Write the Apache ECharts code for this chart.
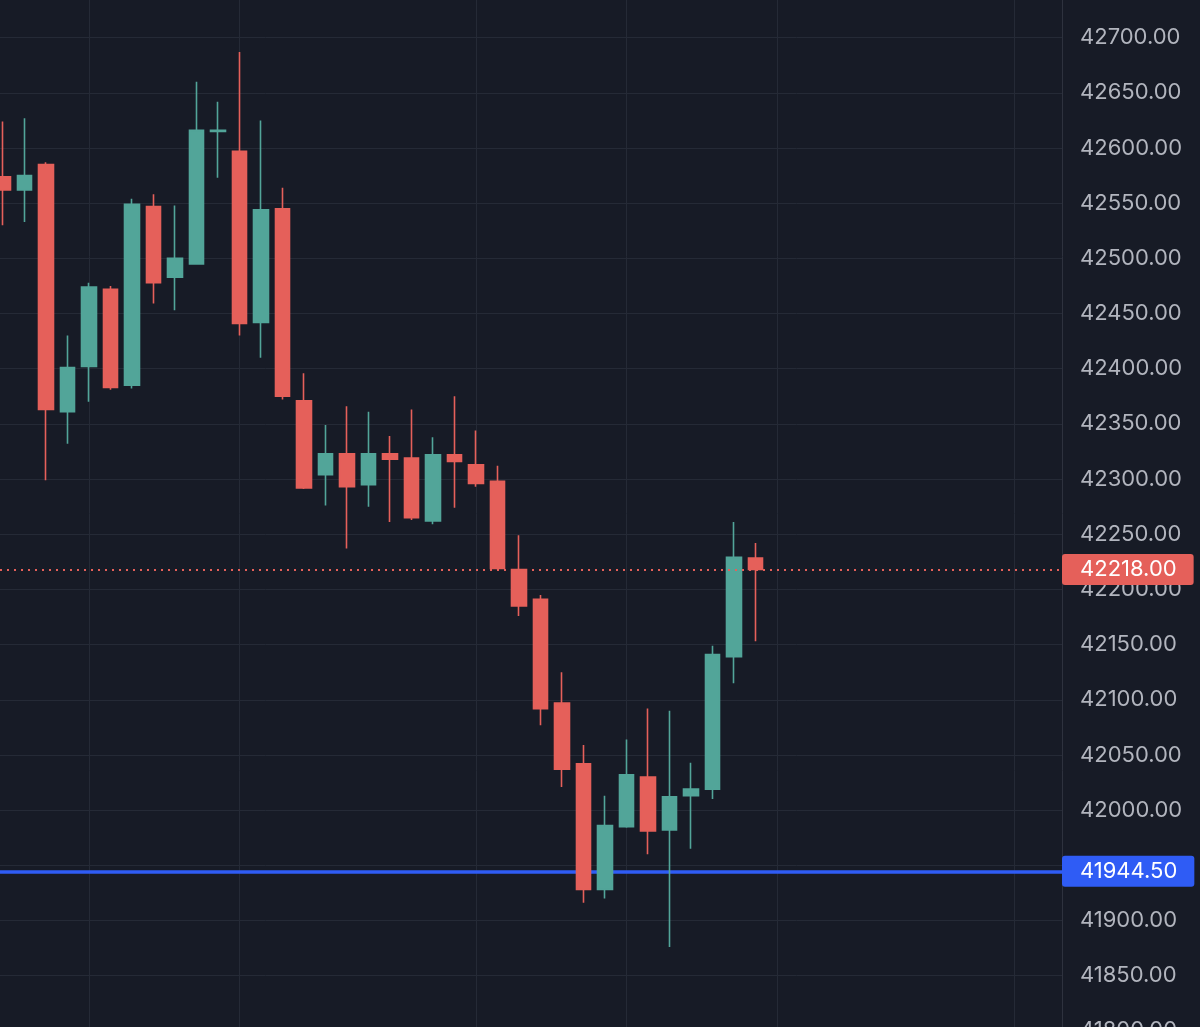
<!DOCTYPE html>
<html>
<head>
<meta charset="utf-8">
<script src="https://cdn.jsdelivr.net/npm/echarts@6/dist/echarts.min.js"></script>
<style>
  html, body { margin: 0; padding: 0; background: #171b26; }
  #chart { width: 1200px; height: 1027px; }
</style>
</head>
<body>
<div id="chart"></div>
<script>
// candles, left to right
const opens  = [42574, 42562, 42585, 42361, 42402, 42472, 42385, 42547, 42483, 42495, 42615, 42597,
                42442, 42545, 42371, 42304, 42323, 42295, 42323, 42319, 42262, 42322, 42313, 42298,
                42218, 42191, 42097, 42042, 41928, 41985, 42030, 41982, 42013, 42019, 42139, 42228.5]
const closes = [42562, 42575, 42363, 42401, 42474, 42383, 42549, 42478, 42500, 42616, 42616, 42441,
                42544, 42375, 42292, 42323, 42293, 42323, 42318, 42265, 42322, 42316, 42296, 42219,
                42185, 42092, 42037, 41928, 41986, 42032, 41981, 42012, 42019, 42141, 42229, 42218]
const lows   = [42530, 42533, 42299, 42332, 42370, 42381, 42382, 42459, 42453, 42495, 42573, 42430,
                42410, 42372, 42291, 42276, 42237, 42275, 42261, 42263, 42259, 42274, 42293, 42218,
                42176, 42077, 42021, 41916, 41920, 41984, 41960, 41876, 41965, 42010, 42115, 42153]
const highs  = [42624, 42627, 42587, 42430, 42478, 42475, 42554, 42558, 42548, 42660, 42642, 42687,
                42625, 42564, 42396, 42349, 42366, 42361, 42339, 42363, 42338, 42375, 42344, 42312,
                42249, 42195, 42125, 42059, 42013, 42064, 42092, 42090, 42043, 42149, 42261, 42242]

// bar slots that carry a vertical grid line (time marks)
const timeMarks = [4, 11, 22, 29, 36, 47]

const lastPrice = 42218
const levelPrice = 41944.5

const upColor = '#52a599'
const downColor = '#e5605a'
const gridColor = '#252a36'

const candles = opens.map((o, i) => [i, o, closes[i], lows[i], highs[i]])

const chart = echarts.init(document.getElementById('chart'))

const priceTag = (text, bg) => ({
  show: true,
  position: 'end',
  distance: 0,
  formatter: text,
  color: '#ffffff',
  fontSize: 22,
  fontFamily: 'Inter',
  backgroundColor: bg,
  borderRadius: 3,
  padding: [5, 17, 4, 18],
  lineHeight: 22
})

const option = {
  backgroundColor: '#171b26',
  animation: false,
  textStyle: { fontFamily: 'Inter' },
  grid: {
    left: 0,
    right: 138,
    top: -17.5,
    bottom: -3.8,
    outerBoundsMode: 'none'
  },
  xAxis: {
    type: 'value',
    min: -0.1395,
    max: 49.242,
    axisLine: { show: false, onZero: false },
    axisTick: { show: false },
    axisLabel: { show: false },
    splitLine: { show: false }
  },
  yAxis: {
    type: 'value',
    position: 'right',
    min: 41800,
    max: 42750,
    interval: 50,
    axisLine: { show: true, onZero: false, lineStyle: { color: '#2e323e', width: 1 } },
    axisTick: { show: false },
    axisLabel: {
      color: '#b2b5be',
      fontSize: 22,
      margin: 18,
      align: 'left',
      formatter: v => v.toFixed(2)
    },
    splitLine: { lineStyle: { color: gridColor, width: 1 } }
  },
  series: [
    {
      // background lines: time marks and the blue level, kept under the candles
      type: 'line',
      z: 1,
      data: [],
      silent: true,
      markLine: {
        silent: true,
        z: 1,
        symbol: ['none', 'none'],
        animation: false,
        data: [
          ...timeMarks.map(x => ({
            xAxis: x,
            lineStyle: { color: gridColor, width: 1, type: 'solid' },
            label: { show: false }
          })),
          {
            yAxis: levelPrice,
            lineStyle: { color: '#2f5cf5', width: 3.5, type: 'solid' },
            label: priceTag(levelPrice.toFixed(2), '#2f5cf5')
          }
        ]
      }
    },
    {
      type: 'candlestick',
      z: 2,
      data: candles,
      encode: { x: 0, y: [1, 2, 3, 4] },
      barWidth: 15,
      itemStyle: {
        color: upColor,
        color0: downColor,
        borderColor: upColor,
        borderColor0: downColor,
        borderWidth: 1.6
      },
      markLine: {
        silent: true,
        z: 5,
        symbol: ['none', 'none'],
        animation: false,
        data: [
          {
            yAxis: lastPrice,
            lineStyle: { color: downColor, width: 2, type: [2, 5] },
            label: priceTag(lastPrice.toFixed(2), downColor)
          }
        ]
      }
    }
  ]
}

chart.setOption(option)
</script>
</body>
</html>
